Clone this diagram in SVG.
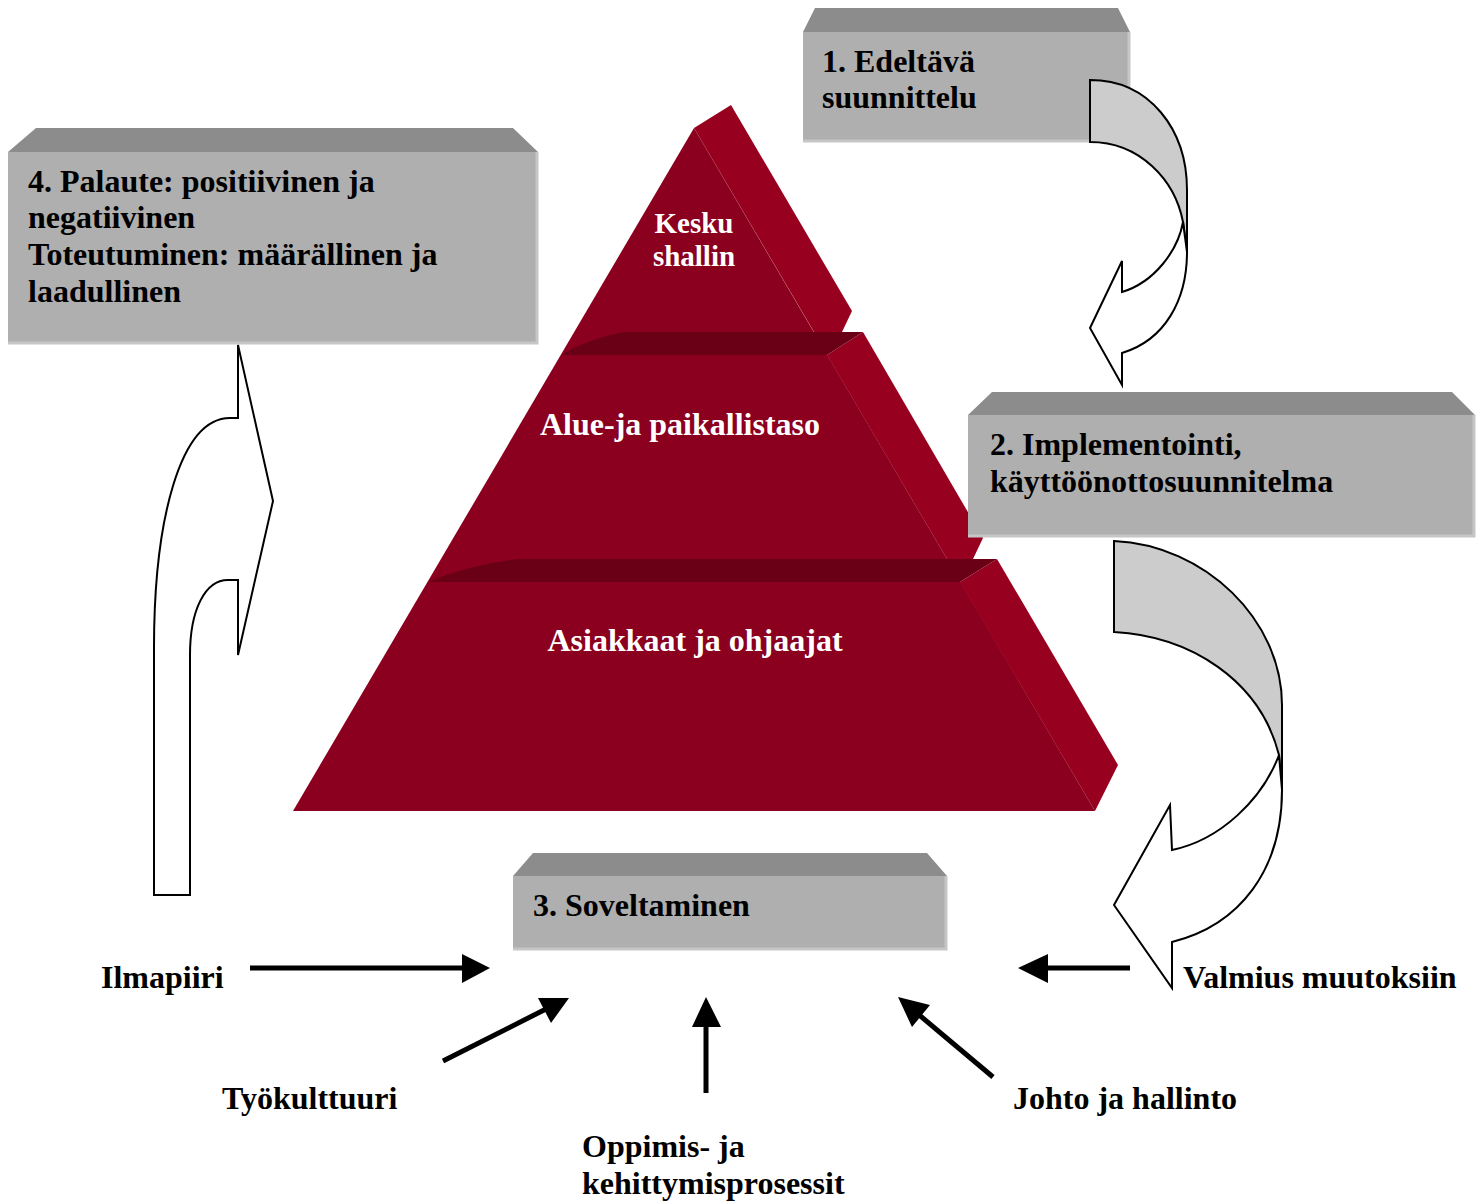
<svg xmlns="http://www.w3.org/2000/svg" width="1482" height="1201" viewBox="0 0 1482 1201">
<defs>
<style>
.t{font-family:"Liberation Serif","Times New Roman",serif;font-weight:bold;font-size:32px;fill:#000}
.w{font-family:"Liberation Serif","Times New Roman",serif;font-weight:bold;font-size:32px;fill:#fff}
.ws{font-size:29px}
.front{fill:#AFAFAF}
.top{fill:#8C8C8C}
.edge{stroke:#C6C6C6;stroke-width:3;fill:none}
.pf{fill:#8B001E}
.ps{fill:#98001F}
.pb{fill:#6A0016}
.blk{fill:#fff;stroke:#000;stroke-width:2;stroke-linejoin:miter}
.blkg{fill:#CCCCCC;stroke:#000;stroke-width:2}
.ln{stroke:#000;stroke-width:5;fill:none}
.hd{fill:#000}
</style>
</defs>
<rect width="1482" height="1201" fill="#fff"/>

<g id="pyramid">
  <polygon class="pf" points="694,128 293,811 1095,811"/>
  <polygon class="ps" points="694,128 731,105 852,311 842,332 814,332"/>
  <polygon class="ps" points="827,355 863,332 983,538 973,559 947,559"/>
  <polygon class="ps" points="960,582 997,559 1118,765 1095,811"/>
  <path class="pb" d="M561,355 Q585,340 623,332 L863,332 L827,355 Z"/>
  <path class="pb" d="M428,582 Q465,566 517,559 L997,559 L960,582 Z"/>
  <g id="tier1"><text class="w ws" x="694" y="233" text-anchor="middle">Kesku</text><text class="w ws" x="694" y="266" text-anchor="middle">shallin</text></g>
  <g id="tier2"><text class="w" x="680" y="435" text-anchor="middle">Alue-ja paikallistaso</text></g>
  <g id="tier3"><text class="w" x="695" y="651" text-anchor="middle">Asiakkaat ja ohjaajat</text></g>
</g>

<g id="box1">
  <polygon class="top" points="803,32 815,8 1118,8 1130,32"/>
  <rect class="front" x="803" y="32" width="327" height="110"/>
  <polyline class="edge" points="1129,32 1129,141 803,141"/>
  <text class="t" x="822" y="72">1. Edeltävä</text>
  <text class="t" x="822" y="108">suunnittelu</text>
</g>

<g id="box4">
  <polygon class="top" points="8,152 36,128 513,128 538,152"/>
  <rect class="front" x="8" y="152" width="530" height="192"/>
  <polyline class="edge" points="537,152 537,343 8,343"/>
  <text class="t" x="28" y="192">4. Palaute: positiivinen ja</text>
  <text class="t" x="28" y="228">negatiivinen</text>
  <text class="t" x="28" y="265">Toteutuminen: määrällinen ja</text>
  <text class="t" x="28" y="302">laadullinen</text>
</g>

<g id="box2">
  <polygon class="top" points="968,415 992,392 1452,392 1475,415"/>
  <rect class="front" x="968" y="415" width="507" height="122"/>
  <polyline class="edge" points="1474,415 1474,536 968,536"/>
  <text class="t" x="990" y="455">2. Implementointi,</text>
  <text class="t" x="990" y="492">käyttöönottosuunnitelma</text>
</g>

<g id="box3">
  <polygon class="top" points="513,876 533,853 927,853 947,876"/>
  <rect class="front" x="513" y="876" width="434" height="74"/>
  <polyline class="edge" points="946,876 946,949 513,949"/>
  <text class="t" x="533" y="916">3. Soveltaminen</text>
</g>

<g id="connectors">
  <g id="curved-arrow-1">
    <path class="blkg" d="M1090,80 C1150,80 1187,130 1187,190 L1187,252 L1183,222 C1175,180 1140,142 1090,142 Z"/>
    <path class="blk" d="M1183,222 C1178,250 1155,282 1122,292 L1122,261 L1090,328 L1122,385 L1122,353 C1165,340 1187,300 1187,252 Z"/>
  </g>
  <g id="curved-arrow-2">
    <path class="blkg" d="M1114,541 C1205,545 1282,620 1282,705 L1282,790 L1279,755 C1260,680 1190,636 1114,632 Z"/>
    <path class="blk" d="M1279,755 C1262,800 1220,840 1172,850 L1170,805 L1114,905 L1172,988 L1172,942 C1240,925 1282,870 1282,790 Z"/>
  </g>
  <g id="up-arrow-4">
    <path class="blk" d="M154,895 L154,648 C154,520 180,418 230,418 L238,418 L238,345 L273,501 L238,655 L238,580 L228,580 C205,580 190,610 190,655 L190,895 Z"/>
  </g>
  <g id="arrow-ilmapiiri">
    <line class="ln" x1="250" y1="968" x2="465" y2="968"/>
    <polygon class="hd" points="462,954 490,968 462,983"/>
  </g>
  <g id="arrow-tyokulttuuri">
    <line class="ln" x1="443" y1="1061" x2="548" y2="1008"/>
    <polygon class="hd" points="538,998 569,998 551,1023"/>
  </g>
  <g id="arrow-oppimis">
    <line class="ln" x1="706" y1="1093" x2="706" y2="1024"/>
    <polygon class="hd" points="692,1027 706,997 721,1027"/>
  </g>
  <g id="arrow-johto">
    <line class="ln" x1="993" y1="1077" x2="918" y2="1014"/>
    <polygon class="hd" points="898,997 930,1005 912,1027"/>
  </g>
  <g id="arrow-valmius">
    <line class="ln" x1="1130" y1="968" x2="1045" y2="968"/>
    <polygon class="hd" points="1018,968 1048,954 1048,983"/>
  </g>
</g>

<g id="labels">
  <text class="t" x="101" y="988">Ilmapiiri</text>
  <text class="t" x="222" y="1109">Työkulttuuri</text>
  <text class="t" x="582" y="1157">Oppimis- ja</text>
  <text class="t" x="582" y="1194">kehittymisprosessit</text>
  <text class="t" x="1013" y="1109">Johto ja hallinto</text>
  <text class="t" x="1183" y="988">Valmius muutoksiin</text>
</g>
</svg>
